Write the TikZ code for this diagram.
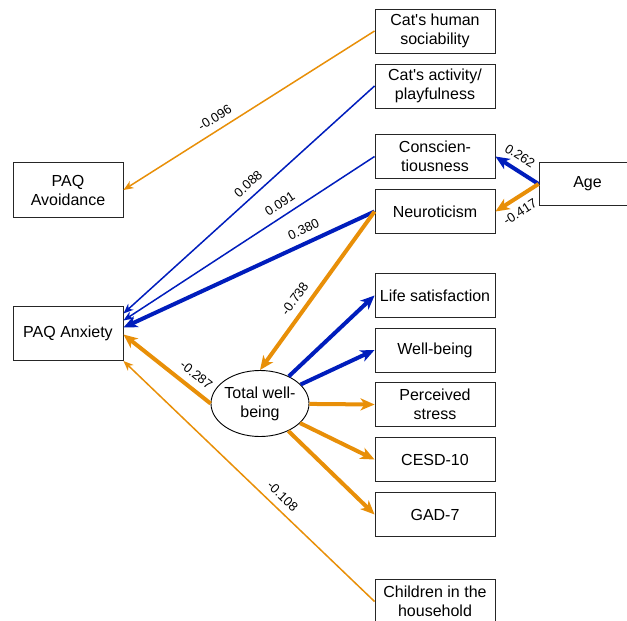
\documentclass[tikz,border=0pt]{standalone}
\usepackage{fontspec}
\setmainfont{Liberation Sans}
\usetikzlibrary{arrows.meta,shapes.geometric}
\definecolor{orng}{RGB}{232,143,8}
\definecolor{blu}{RGB}{0,29,188}
\begin{document}
\begin{tikzpicture}[x=1pt,y=-1pt,
  box/.style={draw=black!85,line width=0.9pt,minimum width=120pt,minimum height=44pt,inner sep=1pt,align=center,font=\fontsize{16}{19}\selectfont},
  txt/.style={align=center,font=\fontsize{16}{19}\selectfont,inner sep=0pt},
  pthin/.style={line width=1.5pt,-{Stealth[length=10pt,width=8pt,inset=3pt]}},
  pthick/.style={line width=4pt,-{Stealth[length=14pt,width=12pt,inset=4pt]}},
  lbl/.style={font=\fontsize{13}{15}\selectfont,sloped,inner sep=7pt}]
\useasboundingbox (0,0) rectangle (627,621);
% boxes
\node[box] (hs) at (435,31) {Cat\textquotesingle s human\\sociability};
\node[box] (ap) at (435,86) {Cat\textquotesingle s activity/\\playfulness};
\node[box] (co) at (435,156.5) {Conscien-\\tiousness};
\node[box] (ne) at (435,211.5) {Neuroticism};
\node[box] (ls) at (435,295.5) {Life satisfaction};
\node[box] (wb) at (435,350) {Well-being};
\node[box] (ps) at (435,404.5) {Perceived\\stress};
\node[box] (ce) at (435,459.5) {CESD-10};
\node[box] (gad) at (435,514.5) {GAD-7};
\node[box] (ch) at (435,601.5) {Children in the\\household};
\node[box,minimum width=97pt,minimum height=43pt] (age) at (587.5,184) {Age};
\node[box,minimum width=110pt,minimum height=55pt] (av) at (68,190) {PAQ\\Avoidance};
\node[box,minimum width=110pt,minimum height=54pt] (anx) at (68,333.5) {PAQ Anxiety};
\node[ellipse,draw=black,line width=0.9pt,minimum width=98pt,minimum height=66pt,inner sep=0pt] (tw) at (260,403.5) {};
\node[txt] (twt) at (tw.center) {Total well-\\being};
% connectors
\draw[orng,pthin] (hs.west) -- (av.east) node[lbl,pos=0.61,above,black] {-0.096};
\draw[blu,pthin] (ap.west) -- ([yshift=20pt]anx.east) node[lbl,pos=0.47,above,black] {0.088};
\draw[blu,pthin] (co.west) -- ([yshift=13pt]anx.east) node[lbl,pos=0.35,above,black] {0.091};
\draw[blu,pthick] (ne.west) -- ([yshift=6pt]anx.east) node[lbl,pos=0.26,above,black] {0.380};
\draw[orng,pthick] (ne.west) -- (tw.north) node[lbl,pos=0.6,above,black] {-0.738};
\draw[orng,pthick] (tw.west) -- ([yshift=-1pt]anx.east) node[lbl,pos=0.26,above,black] {-0.287};
\draw[orng,pthin] (ch.west) -- (anx.south east) node[lbl,pos=0.4,above,black] {-0.108};
\draw[blu,pthick] (age.west) -- (co.east) node[lbl,pos=0.6,above,black] {0.262};
\draw[orng,pthick] (age.west) -- (ne.east) node[lbl,pos=0.6,below,black] {-0.417};
\draw[blu,pthick] (tw) -- (ls.west);
\draw[blu,pthick] (tw) -- (wb.west);
\draw[orng,pthick] (tw) -- (ps.west);
\draw[orng,pthick] (tw) -- (ce.west);
\draw[orng,pthick] (tw) -- (gad.west);
\end{tikzpicture}
\end{document}
